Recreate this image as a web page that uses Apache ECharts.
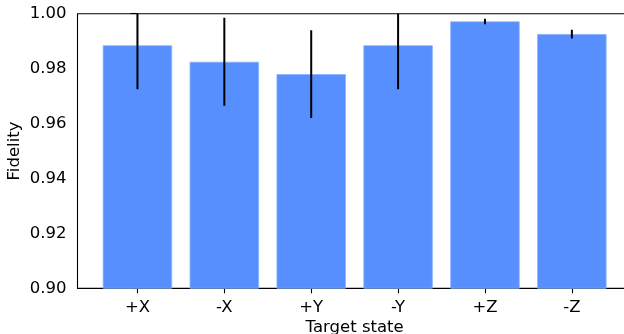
<!DOCTYPE html>
<html>
<head>
<meta charset="utf-8">
<script src="https://cdn.jsdelivr.net/npm/echarts@6/dist/echarts.min.js"></script>
<style>html,body{margin:0;padding:0;background:#fff}#c{width:624px;height:334px}</style>
</head>
<body>
<div id="c"></div>
<script>
const categories = ['+X', '-X', '+Y', '-Y', '+Z', '-Z'];
const fidelity = [0.9885, 0.9825, 0.978, 0.9885, 0.9972, 0.9926];
const errors = [0.016, 0.016, 0.016, 0.016, 0.001, 0.0016];
const yTicks = [0.90, 0.92, 0.94, 0.96, 0.98, 1.00];

const chart = echarts.init(document.getElementById('c'), null, {renderer: 'canvas'});
const font = 'DejaVu Sans';
const fs = 16.5;
const idx = categories.map((_, i) => i);
chart.setOption({
  animation: false,
  grid: {left: 77.5, top: 13.7, right: -7.8, bottom: 45.7, containLabel: false, outerBoundsMode: 'none',
    show: true, borderColor: '#000', borderWidth: 1.1, backgroundColor: 'transparent'},
  xAxis: {
    type: 'value', min: -0.69, max: 5.69,
    name: 'Target state', nameLocation: 'middle', nameGap: 31, nameMoveOverlap: false,
    nameTextStyle: {fontFamily: font, fontSize: fs, color: '#000'},
    axisLine: {show: true, lineStyle: {color: '#000', width: 1.1}},
    axisTick: {show: true, length: 5, customValues: idx, lineStyle: {color: '#000', width: 1.1}},
    axisLabel: {customValues: idx, margin: 11, fontFamily: font, fontSize: fs, color: '#000',
      formatter: v => categories[Math.round(v)]},
    splitLine: {show: false}
  },
  yAxis: {
    type: 'value', min: yTicks[0], max: yTicks[yTicks.length - 1], interval: 0.02,
    name: 'Fidelity', nameLocation: 'middle', nameGap: 54, nameMoveOverlap: false,
    nameTextStyle: {fontFamily: font, fontSize: fs, color: '#000'},
    axisLine: {show: true, lineStyle: {color: '#000', width: 1.1}},
    axisTick: {show: true, length: 7, lineStyle: {color: '#000', width: 1.1}},
    axisLabel: {margin: 11, fontFamily: font, fontSize: fs, color: '#000', formatter: v => v.toFixed(2)},
    splitLine: {show: false}
  },
  series: [
    {
      type: 'bar',
      barWidth: 69.4,
      data: fidelity.map((v, i) => [i, v]),
      itemStyle: {color: '#5790fe', borderColor: '#8ab2fe', borderWidth: 0.8},
      clip: true
    },
    {
      type: 'custom',
      clip: true,
      data: fidelity.map((v, i) => [i, v - errors[i], v + errors[i]]),
      renderItem: function (params, api) {
        const x = api.value(0);
        const p1 = api.coord([x, api.value(1)]);
        const p2 = api.coord([x, api.value(2)]);
        return {type: 'line', shape: {x1: p1[0], y1: p1[1], x2: p2[0], y2: p2[1]},
          style: {stroke: '#000', lineWidth: 2}};
      },
      z: 5
    }
  ]
});
</script>
</body>
</html>
